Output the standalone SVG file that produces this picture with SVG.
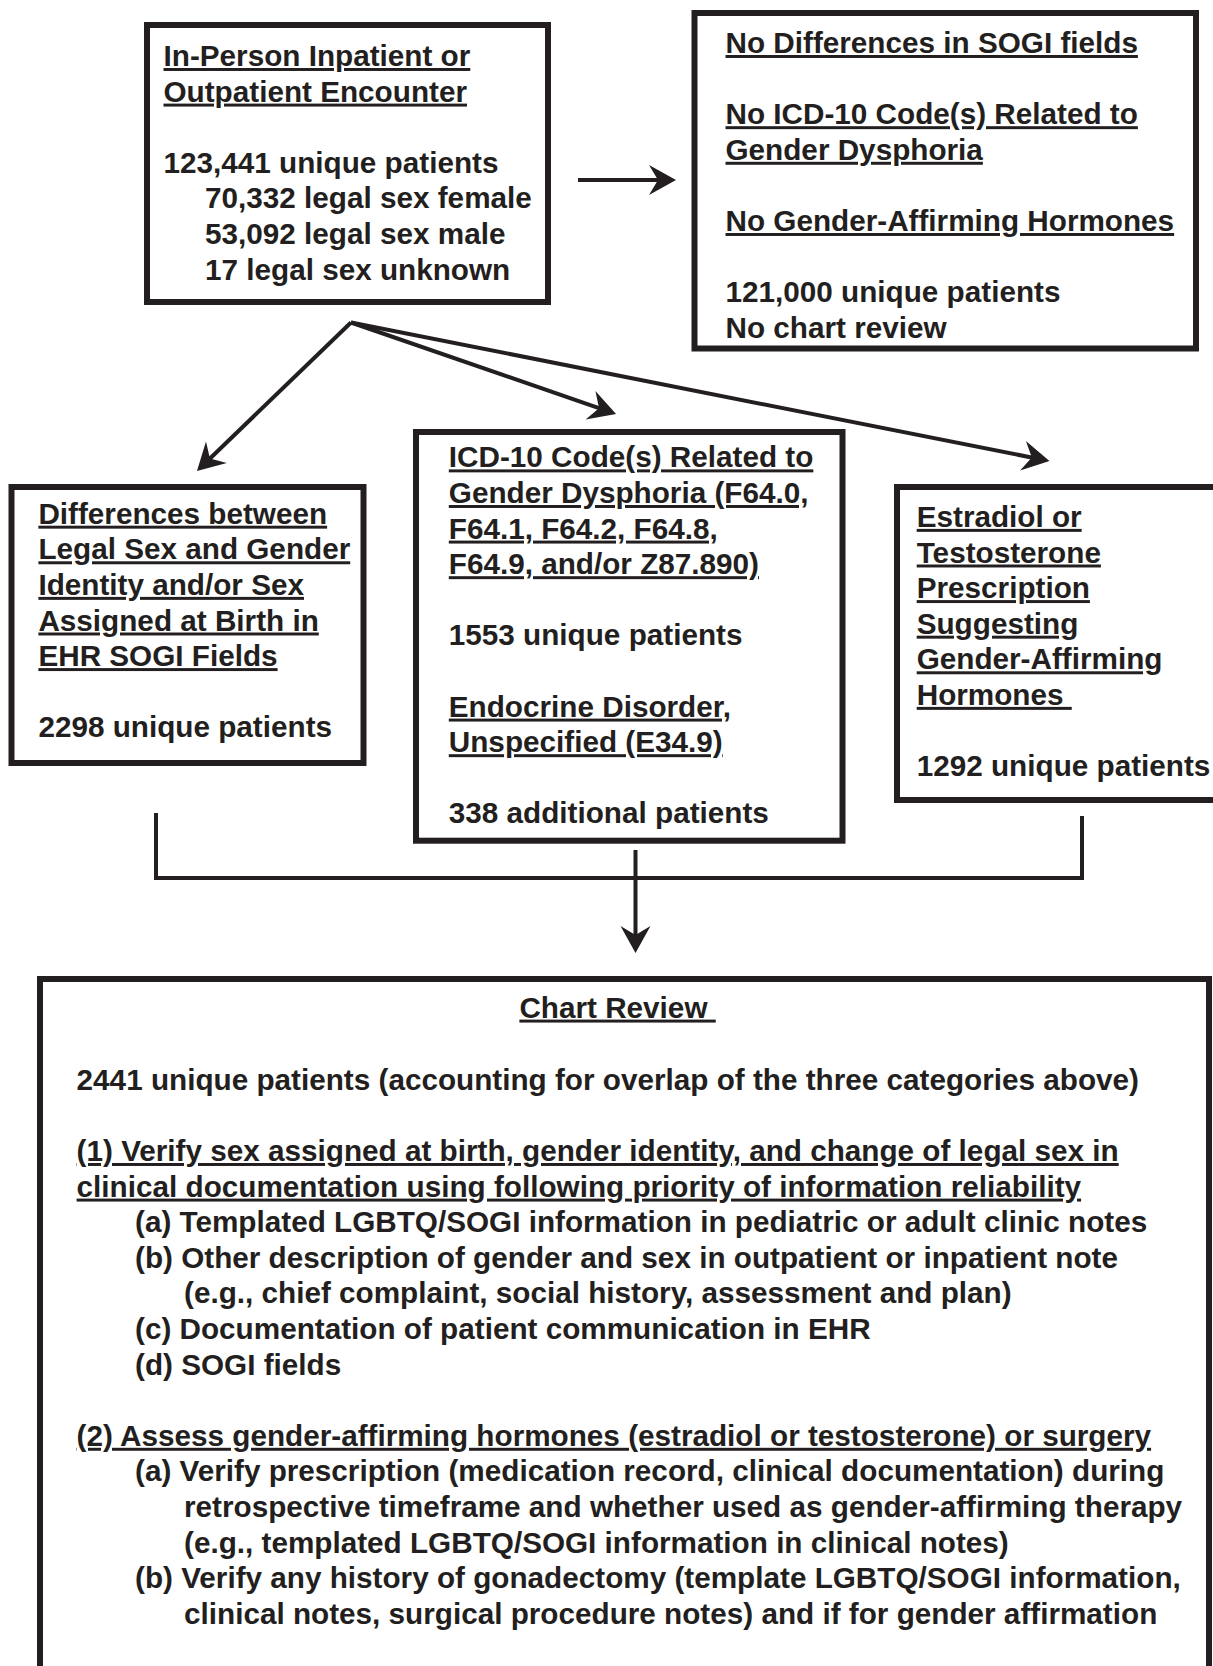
<svg xmlns="http://www.w3.org/2000/svg" width="1213" height="1666" viewBox="0 0 1213 1666">
<style>
.box{fill:#ffffff;stroke:#231f20;stroke-width:6}
.t{font-family:"Liberation Sans",Arial,Helvetica,sans-serif;font-weight:bold;font-size:29.7px;fill:#231f20}
.u{text-decoration:underline;text-decoration-skip-ink:none;text-decoration-thickness:2.6px;text-underline-offset:3px}
.c{fill:none;stroke:#231f20;stroke-width:4}
</style>
<defs>
<marker id="ah" viewBox="-30 -16 32 32" markerWidth="32" markerHeight="32" markerUnits="userSpaceOnUse" orient="auto" refX="-12" refY="0">
<path d="M0,0 L-27,-15 L-18,0 L-27,15 Z" fill="#231f20"/>
</marker>
</defs>
<rect width="1213" height="1666" fill="#ffffff"/>

<g id="connectors">
<line class="c" x1="578" y1="180" x2="664" y2="180" marker-end="url(#ah)"/>
<line class="c" x1="351" y1="322.5" x2="205.6" y2="462.7" marker-end="url(#ah)"/>
<line class="c" x1="351" y1="322.5" x2="604.7" y2="410.1" marker-end="url(#ah)"/>
<line class="c" x1="351" y1="322.5" x2="1037.7" y2="458.7" marker-end="url(#ah)"/>
<path class="c" d="M156,813 V878 H1082 V816"/>
<line class="c" x1="635.5" y1="850" x2="635.5" y2="941" marker-end="url(#ah)"/>
</g>

<g id="node-encounter">
<rect class="box" x="147" y="25" width="401" height="277"/>
<text class="t u" x="163.5" y="66">In-Person Inpatient or</text>
<text class="t u" x="163.5" y="101.6">Outpatient Encounter</text>
<text class="t" x="163.5" y="172.8">123,441 unique patients</text>
<text class="t" x="205" y="208.4">70,332 legal sex female</text>
<text class="t" x="205" y="244">53,092 legal sex male</text>
<text class="t" x="205" y="279.6">17 legal sex unknown</text>
</g>

<g id="node-no-review">
<rect class="box" x="694.5" y="13" width="501.5" height="335.5"/>
<text class="t u" x="725.5" y="53">No Differences in SOGI fields</text>
<text class="t u" x="725.5" y="124.2">No ICD-10 Code(s) Related to</text>
<text class="t u" x="725.5" y="159.8">Gender Dysphoria</text>
<text class="t u" x="725.5" y="231">No Gender-Affirming Hormones</text>
<text class="t" x="725.5" y="302.2">121,000 unique patients</text>
<text class="t" x="725.5" y="337.8">No chart review</text>
</g>

<g id="node-sogi">
<rect class="box" x="11.5" y="487" width="352" height="276"/>
<text class="t u" x="38.4" y="523.7">Differences between</text>
<text class="t u" x="38.4" y="559.3">Legal Sex and Gender</text>
<text class="t u" x="38.4" y="594.9">Identity and/or Sex</text>
<text class="t u" x="38.4" y="630.5">Assigned at Birth in</text>
<text class="t u" x="38.4" y="666.1">EHR SOGI Fields</text>
<text class="t" x="38.4" y="737.3">2298 unique patients</text>
</g>

<g id="node-icd10">
<rect class="box" x="416" y="432" width="426.5" height="408.7"/>
<text class="t u" x="448.8" y="467.4">ICD-10 Code(s) Related to</text>
<text class="t u" x="448.8" y="503">Gender Dysphoria (F64.0,</text>
<text class="t u" x="448.8" y="538.6">F64.1, F64.2, F64.8,</text>
<text class="t u" x="448.8" y="574.2">F64.9, and/or Z87.890)</text>
<text class="t" x="448.8" y="645.4">1553 unique patients</text>
<text class="t u" x="448.8" y="716.6">Endocrine Disorder,</text>
<text class="t u" x="448.8" y="752.2">Unspecified (E34.9)</text>
<text class="t" x="448.8" y="823.4">338 additional patients</text>
</g>

<g id="node-hormones">
<rect class="box" x="897" y="487" width="330" height="313"/>
<text class="t u" x="916.7" y="526.9">Estradiol or</text>
<text class="t u" x="916.7" y="562.5">Testosterone</text>
<text class="t u" x="916.7" y="598.1">Prescription</text>
<text class="t u" x="916.7" y="633.7">Suggesting</text>
<text class="t u" x="916.7" y="669.3">Gender-Affirming</text>
<text class="t u" x="916.7" y="704.9" xml:space="preserve">Hormones </text>
<text class="t" x="916.7" y="776.1">1292 unique patients</text>
</g>

<g id="node-chart-review">
<rect class="box" x="40" y="979" width="1169" height="800"/>
<text class="t u" x="519.4" y="1017.6" xml:space="preserve">Chart Review </text>
<text class="t" x="76.6" y="1089.8">2441 unique patients (accounting for overlap of the three categories above)</text>
<text class="t u" x="76.6" y="1161">(1) Verify sex assigned at birth, gender identity, and change of legal sex in</text>
<text class="t u" x="76.6" y="1196.6">clinical documentation using following priority of information reliability</text>
<text class="t" x="135" y="1232.2">(a) Templated LGBTQ/SOGI information in pediatric or adult clinic notes</text>
<text class="t" x="135" y="1267.8">(b) Other description of gender and sex in outpatient or inpatient note</text>
<text class="t" x="184" y="1303.4">(e.g., chief complaint, social history, assessment and plan)</text>
<text class="t" x="135" y="1339">(c) Documentation of patient communication in EHR</text>
<text class="t" x="135" y="1374.6">(d) SOGI fields</text>
<text class="t u" x="76.6" y="1445.8">(2) Assess gender-affirming hormones (estradiol or testosterone) or surgery</text>
<text class="t" x="135" y="1481.4">(a) Verify prescription (medication record, clinical documentation) during</text>
<text class="t" x="184" y="1517">retrospective timeframe and whether used as gender-affirming therapy</text>
<text class="t" x="184" y="1552.6">(e.g., templated LGBTQ/SOGI information in clinical notes)</text>
<text class="t" x="135" y="1588.2">(b) Verify any history of gonadectomy (template LGBTQ/SOGI information,</text>
<text class="t" x="184" y="1623.8">clinical notes, surgical procedure notes) and if for gender affirmation</text>
</g>
</svg>
